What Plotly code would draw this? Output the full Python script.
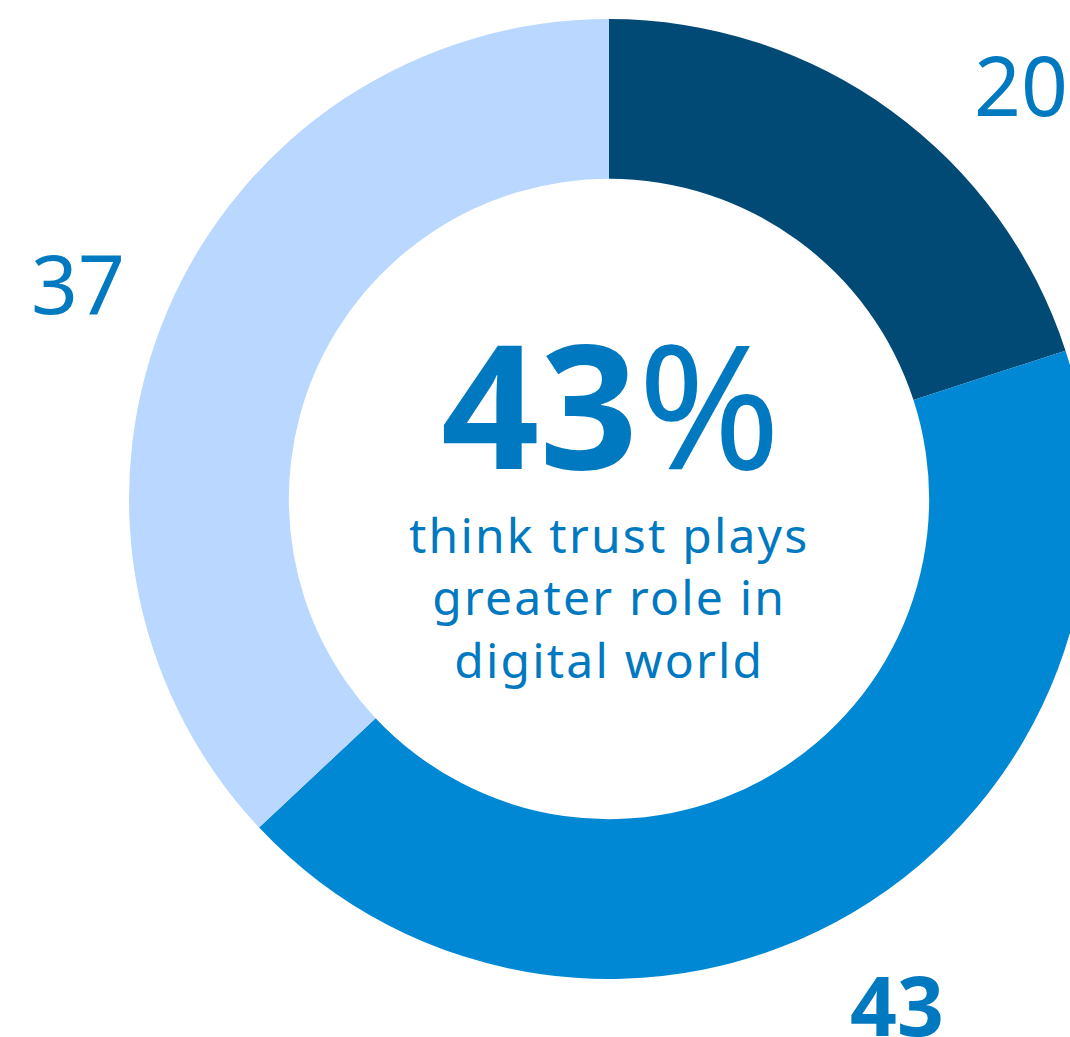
import plotly.graph_objects as go

# Survey shares (percent), clockwise from 12 o'clock
segments = ["Segment 20", "Segment 43", "Segment 37"]
values = [20, 43, 37]
colors = ["#004A75", "#0088D4", "#BAD8FF"]

headline_value = 43
headline_text = ["think trust plays", "greater role in", "digital world"]

TEXT_COLOR = "#0079C1"
FONT = "Noto Sans"

# Figure geometry: the ring is slightly wider than the visible page on the right
W, H = 1100, 1037
L, T, SIZE = 129, 19, 960

fig = go.Figure(
    go.Pie(
        labels=segments,
        values=values,
        marker=dict(colors=colors, line=dict(width=0)),
        hole=0.667,
        sort=False,
        direction="clockwise",
        rotation=0,
        textinfo="none",
        hoverinfo="label+value",
        showlegend=False,
        domain=dict(x=[0, 1], y=[0, 1]),
    )
)


def px(x):
    return (x - L) / SIZE


def py(y):
    return 1 - (y - T) / SIZE


# Value labels around the ring
label_pos = [
    (1021, 84, False),   # 20
    (897, 1004, True),   # 43
    (78, 282, False),    # 37
]
for v, (x, y, bold) in zip(values, label_pos):
    txt = f"<b>{v}</b>" if bold else str(v)
    fig.add_annotation(
        x=px(x), y=py(y), xref="paper", yref="paper",
        text=txt, showarrow=False,
        font=dict(family=FONT, size=82, color=TEXT_COLOR),
        xanchor="center", yanchor="middle",
    )

# Centre headline
fig.add_annotation(
    x=px(611), y=py(402), xref="paper", yref="paper",
    text=f"<b>{headline_value}</b>%", showarrow=False,
    font=dict(family=FONT, size=172, color=TEXT_COLOR),
    xanchor="center", yanchor="middle",
)
fig.add_annotation(
    x=px(609), y=py(597), xref="paper", yref="paper",
    text="<br>".join(f'<span style="letter-spacing:2.2px">{s}</span>' for s in headline_text),
    showarrow=False,
    font=dict(family=FONT, size=48, color=TEXT_COLOR),
    xanchor="center", yanchor="middle",
)

fig.update_layout(
    width=W, height=H, autosize=False,
    margin=dict(l=L, r=W - L - SIZE, t=T, b=H - T - SIZE),
    paper_bgcolor="white", plot_bgcolor="white",
)

fig.write_html("out.html")
